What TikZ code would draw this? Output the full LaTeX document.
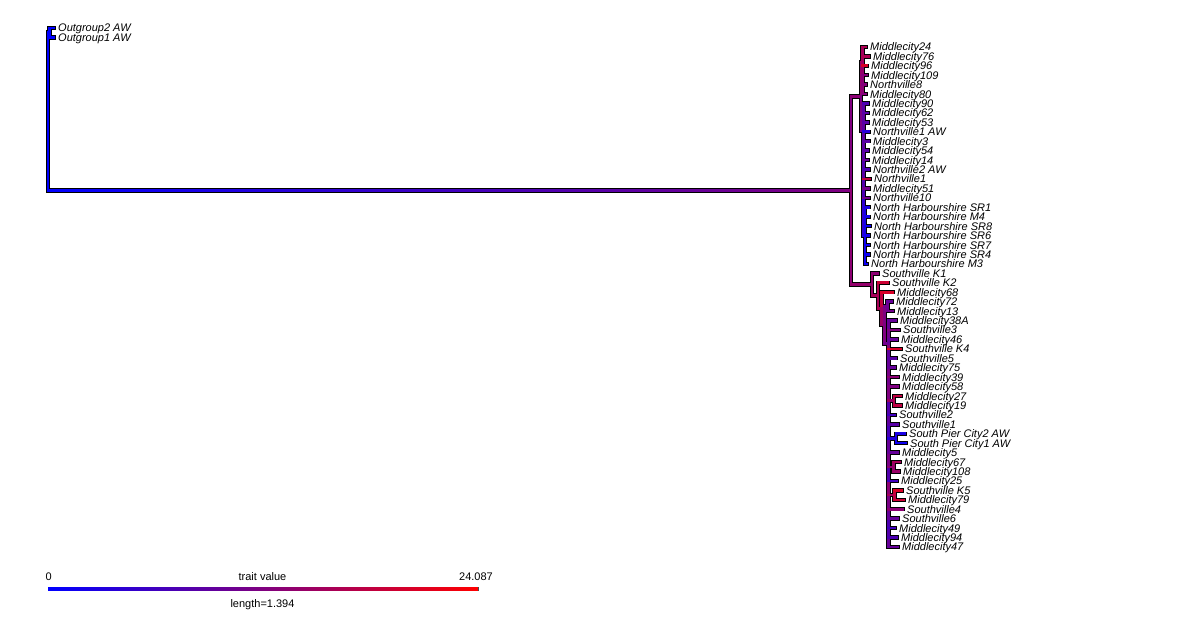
\documentclass[tikz,border=0pt]{standalone}
\usepackage{fontspec}
\setmainfont{Liberation Sans}
\pgfdeclarelayer{bg}
\pgfsetlayers{bg,main}
\tikzset{
 ol/.style={line width=4.4pt, draw=black, line cap=rect},
 br/.style={line width=2.6pt, line cap=rect},
 lab/.style={font=\fontsize{11}{13}\selectfont\itshape, inner sep=0pt, anchor=base west},
 leg/.style={font=\fontsize{11}{13}\selectfont, inner sep=0pt},
}
\newcommand\phedge[4]{%
 \begin{pgfonlayer}{bg}\draw[ol] (#1) |- (#2);\end{pgfonlayer}
 \draw[br,#3] (#1) -- (#1|-#2);
 \draw[br,#4] (#1|-#2) -- (#2);}
\newcommand\phtip[4]{%
 \pgfmathsetmacro\phy{28+9.436*#2}
 \coordinate (#1) at (#3,\phy);
 \node[lab] (#1-lab) at ([xshift=4.5pt,yshift=-4pt]#1) {#4};}
\begin{document}
\begin{tikzpicture}[x=1pt,y=-1pt]
\useasboundingbox (0,0) rectangle (1200,639);
% internal nodes
\coordinate (R) at (48,111.6);
\coordinate (OG) at (49.5,32.7);
\coordinate (I) at (851,190.5);
\coordinate (A) at (861,96.5);
\coordinate (A1) at (862.5,62);
\coordinate (A2) at (863.5,131);
\coordinate (A3) at (865,235.6);
\coordinate (B) at (872,284.5);
\coordinate (B1) at (878,295.7);
\coordinate (B2) at (881.5,308.6);
\coordinate (B3) at (884.5,325);
\coordinate (B3a) at (887.5,306.4);
\coordinate (B4) at (888.5,343.6);
\coordinate (C1) at (894,400.7);
\coordinate (C2) at (896,438.5);
\coordinate (C3) at (893.5,466.8);
\coordinate (C4) at (894.5,495.1);
% tips
\phtip{t0}{0}{53.5}{Outgroup2 AW}
\phtip{t1}{1}{53.5}{Outgroup1 AW}
\phtip{t2}{2}{865.5}{Middlecity24}
\phtip{t3}{3}{868.5}{Middlecity76}
\phtip{t4}{4}{866.5}{Middlecity96}
\phtip{t5}{5}{866.5}{Middlecity109}
\phtip{t6}{6}{865.5}{Northville8}
\phtip{t7}{7}{865.5}{Middlecity80}
\phtip{t8}{8}{867.5}{Middlecity90}
\phtip{t9}{9}{867.5}{Middlecity62}
\phtip{t10}{10}{867.5}{Middlecity53}
\phtip{t11}{11}{868.5}{Northville1 AW}
\phtip{t12}{12}{868.5}{Middlecity3}
\phtip{t13}{13}{867.5}{Middlecity54}
\phtip{t14}{14}{867.5}{Middlecity14}
\phtip{t15}{15}{868.5}{Northville2 AW}
\phtip{t16}{16}{869.5}{Northville1}
\phtip{t17}{17}{868.5}{Middlecity51}
\phtip{t18}{18}{868.5}{Northville10}
\phtip{t19}{19}{868.5}{North Harbourshire SR1}
\phtip{t20}{20}{868.5}{North Harbourshire M4}
\phtip{t21}{21}{869.5}{North Harbourshire SR8}
\phtip{t22}{22}{868.5}{North Harbourshire SR6}
\phtip{t23}{23}{868.5}{North Harbourshire SR7}
\phtip{t24}{24}{868.5}{North Harbourshire SR4}
\phtip{t25}{25}{866.5}{North Harbourshire M3}
\phtip{t26}{26}{877.5}{Southville K1}
\phtip{t27}{27}{887.5}{Southville K2}
\phtip{t28}{28}{892.5}{Middlecity68}
\phtip{t29}{29}{891.5}{Middlecity72}
\phtip{t30}{30}{892.5}{Middlecity13}
\phtip{t31}{31}{895.5}{Middlecity38A}
\phtip{t32}{32}{898.5}{Southville3}
\phtip{t33}{33}{896.5}{Middlecity46}
\phtip{t34}{34}{900.5}{Southville K4}
\phtip{t35}{35}{895.5}{Southville5}
\phtip{t36}{36}{894.5}{Middlecity75}
\phtip{t37}{37}{897.5}{Middlecity39}
\phtip{t38}{38}{897.5}{Middlecity58}
\phtip{t39}{39}{900.5}{Middlecity27}
\phtip{t40}{40}{900.5}{Middlecity19}
\phtip{t41}{41}{894.5}{Southville2}
\phtip{t42}{42}{897.5}{Southville1}
\phtip{t43}{43}{904.5}{South Pier City2 AW}
\phtip{t44}{44}{905.5}{South Pier City1 AW}
\phtip{t45}{45}{897.5}{Middlecity5}
\phtip{t46}{46}{899.5}{Middlecity67}
\phtip{t47}{47}{898.5}{Middlecity108}
\phtip{t48}{48}{896.5}{Middlecity25}
\phtip{t49}{49}{901.5}{Southville K5}
\phtip{t50}{50}{903.5}{Middlecity79}
\phtip{t51}{51}{902.5}{Southville4}
\phtip{t52}{52}{897.5}{Southville6}
\phtip{t53}{53}{894.5}{Middlecity49}
\phtip{t54}{54}{896.5}{Middlecity94}
\phtip{t55}{55}{897.5}{Middlecity47}
% root and outgroup
\phedge{R}{OG}{blue}{blue}
\phedge{OG}{t0}{blue}{blue}
\phedge{OG}{t1}{blue}{blue}
\begin{pgfonlayer}{bg}\draw[ol] (R) |- (I);\end{pgfonlayer}
\draw[br,blue] (R) -- (R|-I);
\shade[left color=blue, right color=red!50!blue] (48,189.2) rectangle (851,191.8);
% ingroup
\phedge{I}{A}{red!50!blue}{red!55!blue}
\phedge{I}{B}{red!55!blue}{red!58!blue}
\phedge{A}{A1}{red!58!blue}{red!62!blue}
\phedge{A}{A2}{red!48!blue}{red!42!blue}
% clade A1
\phedge{A1}{t2}{red!64!blue}{red!68!blue}
\phedge{A1}{t3}{red!64!blue}{red!68!blue}
\phedge{A1}{t7}{red!55!blue}{red!52!blue}
\phedge{A1}{t6}{red!55!blue}{red!52!blue}
\phedge{A1}{t5}{red!58!blue}{red!52!blue}
\phedge{A1}{t4}{red!62!blue}{red!85!blue}
% clade A2
\phedge{A2}{t8}{red!36!blue}{red!30!blue}
\phedge{A2}{t9}{red!38!blue}{red!35!blue}
\phedge{A2}{t10}{red!38!blue}{red!35!blue}
\phedge{A2}{A3}{red!18!blue}{red!12!blue}
\phedge{A2}{t18}{red!30!blue}{red!45!blue}
\phedge{A2}{t17}{red!32!blue}{red!45!blue}
\phedge{A2}{t16}{red!35!blue}{red!75!blue}
\phedge{A2}{t15}{red!32!blue}{red!30!blue}
\phedge{A2}{t14}{red!36!blue}{red!40!blue}
\phedge{A2}{t13}{red!36!blue}{red!35!blue}
\phedge{A2}{t12}{red!36!blue}{red!35!blue}
\phedge{A2}{t11}{red!30!blue}{red!15!blue}
% clade A3
\phedge{A3}{t19}{red!10!blue}{red!10!blue}
\phedge{A3}{t20}{red!9!blue}{red!8!blue}
\phedge{A3}{t21}{red!8!blue}{red!5!blue}
\phedge{A3}{t25}{red!6!blue}{red!5!blue}
\phedge{A3}{t24}{red!7!blue}{red!5!blue}
\phedge{A3}{t23}{red!7!blue}{red!5!blue}
\phedge{A3}{t22}{red!8!blue}{red!8!blue}
% clade B
\phedge{B}{t26}{red!58!blue}{red!55!blue}
\phedge{B}{B1}{red!60!blue}{red!65!blue}
\phedge{B1}{t27}{red!70!blue}{red!80!blue}
\phedge{B1}{B2}{red!66!blue}{red!68!blue}
\phedge{B2}{t28}{red!75!blue}{red!85!blue}
\phedge{B2}{B3}{red!60!blue}{red!58!blue}
\phedge{B3}{B3a}{red!50!blue}{red!45!blue}
\phedge{B3}{B4}{red!50!blue}{red!45!blue}
\phedge{B3a}{t29}{red!42!blue}{red!40!blue}
\phedge{B3a}{t30}{red!44!blue}{red!45!blue}
% comb B4
\phedge{B4}{t31}{red!42!blue}{red!40!blue}
\phedge{B4}{t32}{red!45!blue}{red!50!blue}
\phedge{B4}{t55}{red!40!blue}{red!40!blue}
\phedge{B4}{t54}{red!32!blue}{red!30!blue}
\phedge{B4}{t53}{red!30!blue}{red!25!blue}
\phedge{B4}{t52}{red!40!blue}{red!40!blue}
\phedge{B4}{t51}{red!48!blue}{red!55!blue}
\phedge{B4}{C4}{red!55!blue}{red!65!blue}
\phedge{B4}{t48}{red!32!blue}{red!25!blue}
\phedge{B4}{C3}{red!48!blue}{red!55!blue}
\phedge{B4}{t45}{red!40!blue}{red!40!blue}
\phedge{B4}{C2}{red!28!blue}{red!15!blue}
\phedge{B4}{t42}{red!38!blue}{red!35!blue}
\phedge{B4}{t41}{red!32!blue}{red!25!blue}
\phedge{B4}{C1}{red!50!blue}{red!60!blue}
\phedge{B4}{t38}{red!45!blue}{red!50!blue}
\phedge{B4}{t37}{red!47!blue}{red!55!blue}
\phedge{B4}{t36}{red!40!blue}{red!40!blue}
\phedge{B4}{t35}{red!38!blue}{red!35!blue}
\phedge{B4}{t34}{red!55!blue}{red!85!blue}
\phedge{B4}{t33}{red!40!blue}{red!40!blue}
% cherries
\phedge{C1}{t39}{red!70!blue}{red!75!blue}
\phedge{C1}{t40}{red!70!blue}{red!75!blue}
\phedge{C2}{t43}{red!10!blue}{red!10!blue}
\phedge{C2}{t44}{red!8!blue}{red!5!blue}
\phedge{C3}{t46}{red!60!blue}{red!65!blue}
\phedge{C3}{t47}{red!58!blue}{red!60!blue}
\phedge{C4}{t49}{red!78!blue}{red!85!blue}
\phedge{C4}{t50}{red!75!blue}{red!80!blue}
% legend
\node[leg, anchor=base west] (lzero) at (45.5,580) {0};
\node[leg, anchor=base] (ltrait) at (262.5,580) {trait value};
\node[leg, anchor=base east] (lmax) at (493,580) {24.087};
\coordinate (cb1) at (47.5,586.8);
\coordinate (cb2) at (478.5,591.2);
\fill[black!70] (cb1) rectangle (cb2);
\shade[left color=blue, right color=red] (48.2,587.5) rectangle (477.8,590.5);
\node[leg, anchor=base] (llen) at (262.5,607) {length=1.394};
\end{tikzpicture}
\end{document}
